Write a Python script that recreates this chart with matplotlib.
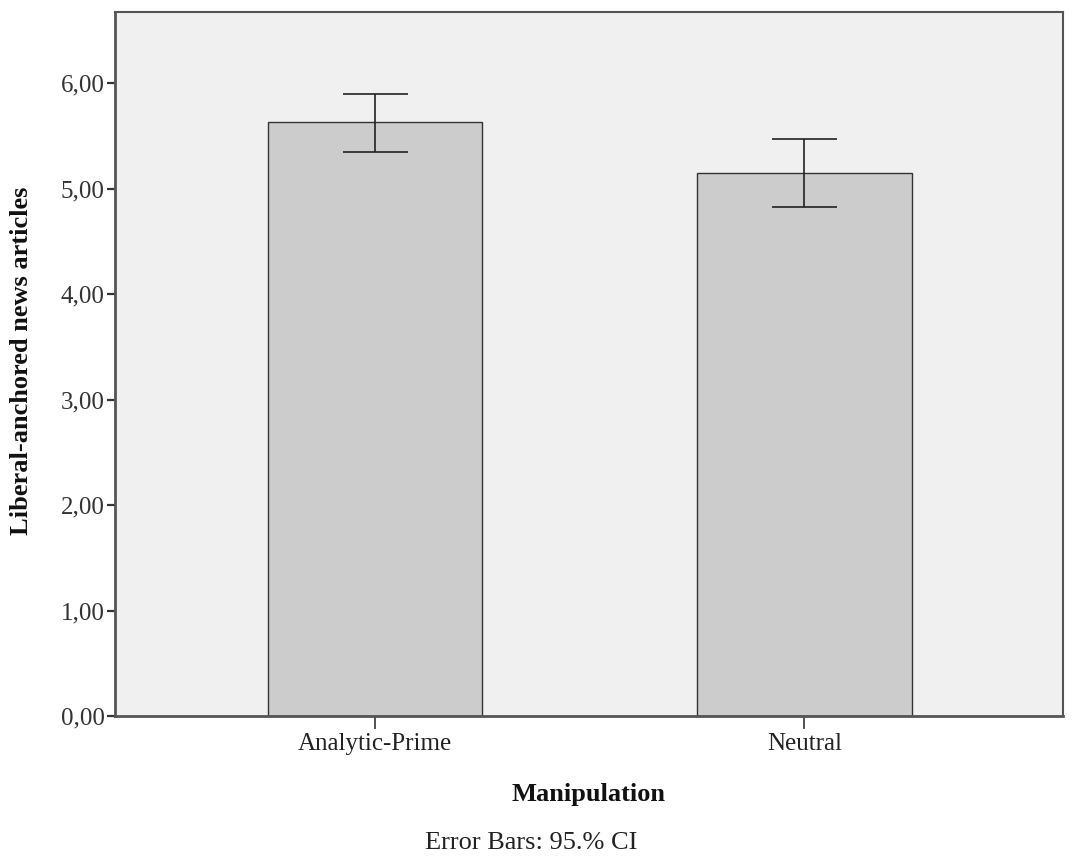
import numpy as np
import matplotlib.pyplot as plt

# values
categories = ["Analytic-Prime", "Neutral"]
means = [5.63, 5.15]
ci_low = [5.35, 4.83]
ci_high = [5.90, 5.47]
yticks = [0, 1, 2, 3, 4, 5, 6]

plt.rcParams["font.family"] = ["Liberation Serif", "DejaVu Serif"]

W, H = 1072, 859
fig = plt.figure(figsize=(W / 100, H / 100), dpi=100)
ax = fig.add_axes([115 / W, 1 - 716 / H, 948 / W, 704 / H])
ax.set_facecolor("#f0f0f0")

x = np.arange(len(categories))
means = np.array(means)
yerr = [means - np.array(ci_low), np.array(ci_high) - means]
ax.bar(x, means, width=0.5, color="#cccccc", edgecolor="#333333", linewidth=1.0, zorder=2)
ax.errorbar(x, means, yerr=yerr, fmt="none", ecolor="#222222", elinewidth=1.2,
            capsize=23.4, capthick=1.2, zorder=3)

ax.set_xlim(-0.606, 1.603)
ax.set_ylim(0, 6.675)
ax.set_xticks(x)
ax.set_xticklabels(categories, fontsize=18)
ax.set_yticks(yticks)
ax.set_yticklabels([f"{v:.2f}".replace(".", ",") for v in yticks], fontsize=18)
ax.tick_params(axis="x", length=9.5, width=1.2, pad=3, color="#333333", labelcolor="#222222")
ax.tick_params(axis="y", length=6, width=1.6, pad=1.5, color="#333333", labelcolor="#333333")

for side in ["left", "bottom", "top", "right"]:
    ax.spines[side].set_color("#555555")
ax.spines["left"].set_linewidth(2)
ax.spines["bottom"].set_linewidth(2)
ax.spines["top"].set_linewidth(1.5)
ax.spines["right"].set_linewidth(1.5)

fig.text(22 / W, 1 - 361 / H, "Liberal-anchored news articles", rotation=90,
         ha="center", va="center", fontsize=19, fontweight="bold", color="#111111")
fig.text(589 / W, 1 - 794 / H, "Manipulation", ha="center", va="center",
         fontsize=19, fontweight="bold", color="#111111")
fig.text(531 / W, 1 - 843 / H, "Error Bars: 95.% CI", ha="center", va="center",
         fontsize=19, color="#222222")

fig.savefig("out.png", dpi=100)
